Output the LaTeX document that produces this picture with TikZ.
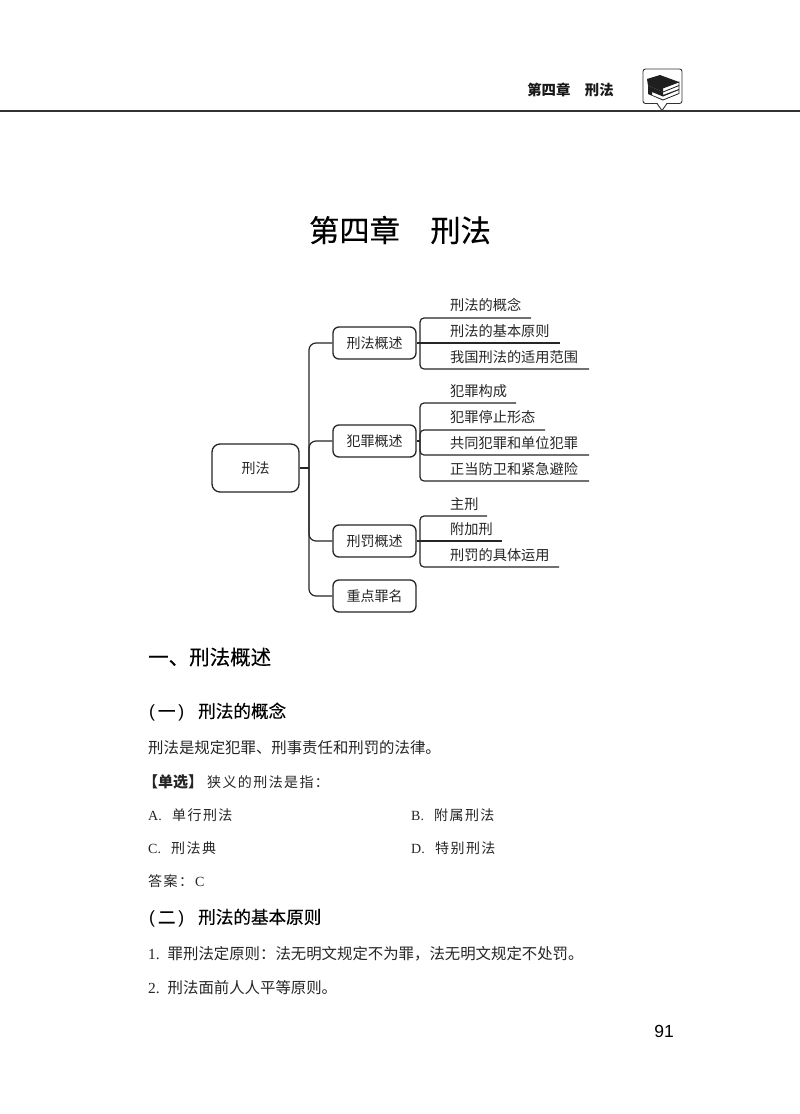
\documentclass[tikz,border=0pt]{standalone}
\usepackage{fontspec}
\setmainfont{Liberation Serif}
\newfontfamily\cjk{Noto Sans CJK SC}
\newfontfamily\cjkh[FakeBold=0.25]{Noto Sans CJK SC}
\newfontfamily\cjkls[LetterSpace=10]{Noto Sans CJK SC}
\newfontfamily\arial{Liberation Sans}
\newcommand{\parenhead}[1]{\hbox to 49pt{{\arial(}\hfil{\cjkh #1}\hfil{\arial)}\hspace{14pt}}}
\newcommand{\prefix}[2]{\hbox to #1{\rmfamily #2\hfil}}
\begin{document}
\begin{tikzpicture}[x=1pt,y=-1pt,
  conn/.style={draw=black!85,line width=1.2pt,rounded corners=7pt},
  connsmall/.style={draw=black!85,line width=1.2pt,rounded corners=4pt},
  plain/.style={draw=black!85,line width=1.2pt},
  rootbox/.style={draw=black!85,line width=1.3pt,rounded corners=8pt,minimum width=87pt,minimum height=48pt,inner sep=0pt,font=\cjk\fontsize{14}{14}\selectfont,text=black!85},
  midbox/.style={draw=black!85,line width=1.3pt,rounded corners=6pt,minimum width=83pt,minimum height=32pt,inner sep=0pt,font=\cjk\fontsize{14}{14}\selectfont,text=black!85},
  leaf/.style={anchor=west,inner sep=0pt,font=\cjk\fontsize{14.2}{14.2}\selectfont,text=black!85},
  body/.style={anchor=west,inner sep=0pt,font=\cjk\fontsize{15.4}{15.4}\selectfont,text=black!85},
  opt/.style={anchor=west,inner sep=0pt,font=\cjkls\fontsize{14}{14}\selectfont,text=black!85},
  head/.style={anchor=west,inner sep=0pt,font=\cjkh\fontsize{20.5}{20.5}\selectfont},
  subhead/.style={anchor=west,inner sep=0pt,font=\cjkh\fontsize{17.6}{17.6}\selectfont},
]
\useasboundingbox (0,0) rectangle (800,1114);
\fill[white] (0,0) rectangle (800,1114);

% running head
\draw[black!80,line width=1.4pt] (0,111) -- (800,111);
\node[inner sep=0pt,font=\cjk\bfseries\fontsize{14.4}{14.4}\selectfont,text=black!90] (rh) at (570.5,90) {第四章\hspace{1em}刑法};
\draw[black!80,line width=0.9pt,fill=white,rounded corners=2.5pt] (643,69) rectangle (682,103.5);
\fill[white] (657,102.5) -- (667,102.5) -- (662,110) -- cycle;
\draw[black!80,line width=0.9pt] (657,103.5) -- (662,110.5) -- (667,103.5);
% books
\fill[black!88] (647,79) -- (660,75) -- (679,82) -- (663,88) -- (663,92) -- (648,85.5) -- cycle;
\draw[black!88,line width=0.8pt] (663,88) -- (679,82) -- (679,85.5) -- (663,92);
\fill[black!88] (648,85.5) -- (663,92) -- (663,95) -- (679,89) -- (679,90) -- (663,96.5) -- (652,92) -- (652,95) -- (663,99.5) -- (663,100.5) -- (648,94) -- cycle;
\draw[black!88,line width=0.8pt] (679,85.5) -- (679,93.5) -- (663,100);

% title
\node[inner sep=0pt,font=\cjkh\fontsize{30.3}{30.3}\selectfont] (title) at (400,230) {第四章\hspace{1em}刑法};

% mind map
\node[rootbox] (root) at (255.5,468) {刑法};
\node[midbox] (a) at (374.5,343) {刑法概述};
\node[midbox] (b) at (374.5,441) {犯罪概述};
\node[midbox] (c) at (374.5,541) {刑罚概述};
\node[midbox] (d) at (374.5,596) {重点罪名};
\coordinate (t) at (309,468);
\draw[plain] (root.east) -- (t);
\draw[conn] (t) |- (a.west);
\draw[conn] (t) |- (b.west);
\draw[conn] (t) |- (c.west);
\draw[conn] (t) |- (d.west);

\node[leaf] (a1) at (450,305) {刑法的概念};
\node[leaf] (a2) at (450,331) {刑法的基本原则};
\node[leaf] (a3) at (450,357) {我国刑法的适用范围};
\coordinate (ta) at (420,343);
\coordinate (ea1) at (531,318);
\coordinate (ea2) at (560,343);
\coordinate (ea3) at (589,369);
\draw[plain] (a.east) -- (ea2);
\draw[connsmall] (ta) |- (ea1);
\draw[connsmall] (ta) |- (ea3);

\node[leaf] (b1) at (450,391) {犯罪构成};
\node[leaf] (b2) at (450,417) {犯罪停止形态};
\node[leaf] (b3) at (450,443) {共同犯罪和单位犯罪};
\node[leaf] (b4) at (450,469) {正当防卫和紧急避险};
\coordinate (tb) at (420,441);
\coordinate (eb1) at (516,403);
\coordinate (eb2) at (545,430);
\coordinate (eb3) at (589,455);
\coordinate (eb4) at (589,481);
\draw[plain] (b.east) -- (tb);
\draw[connsmall] (tb) |- (eb1);
\draw[connsmall] (tb) |- (eb2);
\draw[connsmall] (tb) |- (eb3);
\draw[connsmall] (tb) |- (eb4);

\node[leaf] (c1) at (450,504) {主刑};
\node[leaf] (c2) at (450,529) {附加刑};
\node[leaf] (c3) at (450,555) {刑罚的具体运用};
\coordinate (tc) at (420,541);
\coordinate (ec1) at (487,516);
\coordinate (ec2) at (502,541);
\coordinate (ec3) at (559,567);
\draw[plain] (c.east) -- (ec2);
\draw[connsmall] (tc) |- (ec1);
\draw[connsmall] (tc) |- (ec3);

% text
\node[head] (h1) at (148,657) {一、刑法概述};
\node[subhead] (h2) at (149,712) {\parenhead{一}刑法的概念};
\node[body] (p1) at (148,748) {刑法是规定犯罪、刑事责任和刑罚的法律。};
\node[opt] (q) at (148,782) {\hbox to 59pt{\cjk\bfseries\fontsize{15}{15}\selectfont\kern-5pt【单选】\hfil}狭义的刑法是指：};
\node[opt] (oa) at (148,815) {\prefix{24pt}{A.}单行刑法};
\node[opt] (ob) at (411,815) {\prefix{23pt}{B.}附属刑法};
\node[opt] (oc) at (148,848) {\prefix{23pt}{C.}刑法典};
\node[opt] (od) at (411,848) {\prefix{24pt}{D.}特别刑法};
\node[opt] (ans) at (148,881) {\hbox to 47pt{答案：\hfil}\textrm{C}};
\node[subhead] (h3) at (149,918) {\parenhead{二}刑法的基本原则};
\node[body] (p2) at (148,954) {\prefix{19.5pt}{1.}罪刑法定原则：法无明文规定不为罪，法无明文规定不处罚。};
\node[body] (p3) at (148,988) {\prefix{19.5pt}{2.}刑法面前人人平等原则。};
\node[inner sep=0pt,font=\arial\fontsize{17.5}{17.5}\selectfont] (pn) at (664,1031) {91};
\end{tikzpicture}
\end{document}
